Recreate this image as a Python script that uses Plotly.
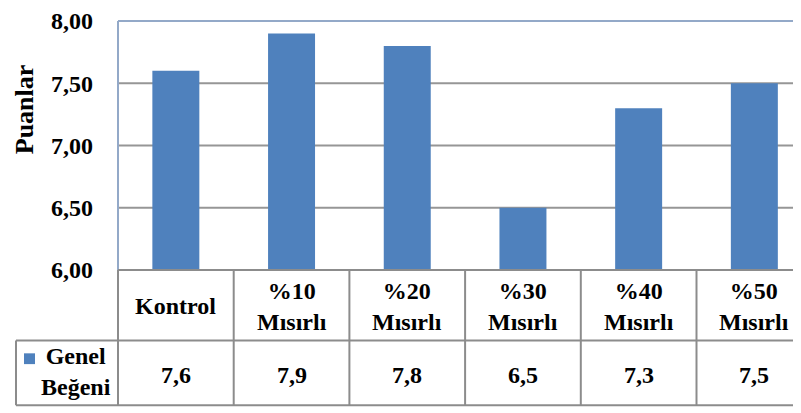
import plotly.graph_objects as go

# chart data
categories = ["Kontrol", "%10<br>Mısırlı", "%20<br>Mısırlı", "%30<br>Mısırlı",
              "%40<br>Mısırlı", "%50<br>Mısırlı"]
genel_begeni = [7.6, 7.9, 7.8, 6.5, 7.3, 7.5]
series_name = "Genel<br>Beğeni"
y_ticks = [6.0, 6.5, 7.0, 7.5, 8.0]

BAR_COLOR = "#4F81BD"
GRID_COLOR = "#969696"
TABLE_COLOR = "#8c8c8c"
BORDER_COLOR = "#93a9c8"
FONT = "Liberation Serif"

# the page body has an 8px margin, so the figure sits at (8, 8) in the window
OFF = 8
W, H = 801 - OFF, 413 - OFF
L, T = 118 - OFF, 16 - OFF
B = H - (270 - OFF)
plot_w = W - L
plot_h = H - T - B
cat_w = 115.7  # pixel width of one category column


def py(ypx):
    """window pixel row -> paper y"""
    return (270 - ypx) / plot_h


def px(xpx):
    """window pixel column -> paper x"""
    return (xpx - 118) / plot_w


fig = go.Figure()

fig.add_trace(go.Bar(
    x=list(range(len(categories))),
    y=genel_begeni,
    base=0,
    marker=dict(color=BAR_COLOR, line=dict(width=0)),
    name=series_name,
    showlegend=False,
    hoverinfo="skip",
))

shapes = []
# gridlines (inner ticks only; edges are borders / table lines)
for v in y_ticks[1:-1]:
    shapes.append(dict(type="line", xref="paper", yref="y", x0=0, x1=1, y0=v, y1=v,
                       line=dict(color=GRID_COLOR, width=2), layer="below"))

# plot area border (top + left)
shapes.append(dict(type="line", xref="paper", yref="paper", x0=0, x1=1, y0=1, y1=1,
                   line=dict(color=BORDER_COLOR, width=2)))
shapes.append(dict(type="line", xref="paper", yref="paper", x0=0, x1=0, y0=0, y1=1,
                   line=dict(color=BORDER_COLOR, width=2)))

# data table grid
tl = dict(color=TABLE_COLOR, width=2)
shapes.append(dict(type="line", xref="paper", yref="paper", x0=0, x1=1.05,
                   y0=py(270), y1=py(270), line=tl))
for row_y in (342, 408):
    shapes.append(dict(type="line", xref="paper", yref="paper", x0=px(16), x1=1.05,
                       y0=py(row_y), y1=py(row_y), line=tl))
shapes.append(dict(type="line", xref="paper", yref="paper", x0=0, x1=0,
                   y0=py(270), y1=py(408), line=tl))
shapes.append(dict(type="line", xref="paper", yref="paper", x0=px(16), x1=px(16),
                   y0=py(342), y1=py(408), line=tl))
for i in range(len(categories)):
    shapes.append(dict(type="line", xref="x", yref="paper", x0=i + 0.5, x1=i + 0.5,
                       y0=py(270), y1=py(408), line=tl))

# legend key
shapes.append(dict(type="rect", xref="paper", yref="paper",
                   x0=px(24), x1=px(35), y0=py(355), y1=py(366),
                   fillcolor=BAR_COLOR, line=dict(width=0)))

tfont = dict(family=FONT, size=24, color="black", weight="bold")
annotations = []
for i, (cat, val) in enumerate(zip(categories, genel_begeni)):
    annotations.append(dict(x=i, y=py(307), xref="x", yref="paper", text=cat,
                            xanchor="center", yanchor="middle",
                            showarrow=False, font=tfont, align="center"))
    annotations.append(dict(x=i, y=py(377), xref="x", yref="paper",
                            text=f"{val:.1f}".replace(".", ","),
                            xanchor="center", yanchor="middle",
                            showarrow=False, font=tfont))
annotations.append(dict(x=px(76), y=py(374), xref="paper", yref="paper", text=series_name,
                        xanchor="center", yanchor="middle",
                        showarrow=False, font=tfont, align="center"))
annotations.append(dict(x=px(24), y=py(106), xref="paper", yref="paper", text="Puanlar",
                        xanchor="center", yanchor="middle",
                        textangle=-90, showarrow=False,
                        font=dict(family=FONT, size=26, color="black", weight="bold")))

fig.update_layout(
    width=W, height=H,
    margin=dict(l=L, r=0, t=T, b=B),
    paper_bgcolor="white",
    plot_bgcolor="white",
    separators=",.",
    bargap=0.594,
    showlegend=False,
    xaxis=dict(range=[-0.5, -0.5 + plot_w / cat_w], showticklabels=False,
               showgrid=False, zeroline=False, showline=False, fixedrange=True),
    yaxis=dict(range=[6, 8], tickvals=y_ticks, tickformat=".2f", showgrid=False,
               zeroline=False, showline=False, ticks="", ticklabelstandoff=24,
               ticklabeloverflow="allow",
               tickfont=dict(family=FONT, size=24, color="black", weight="bold"),
               fixedrange=True),
    shapes=shapes,
    annotations=annotations,
)

fig.write_html("out.html")
